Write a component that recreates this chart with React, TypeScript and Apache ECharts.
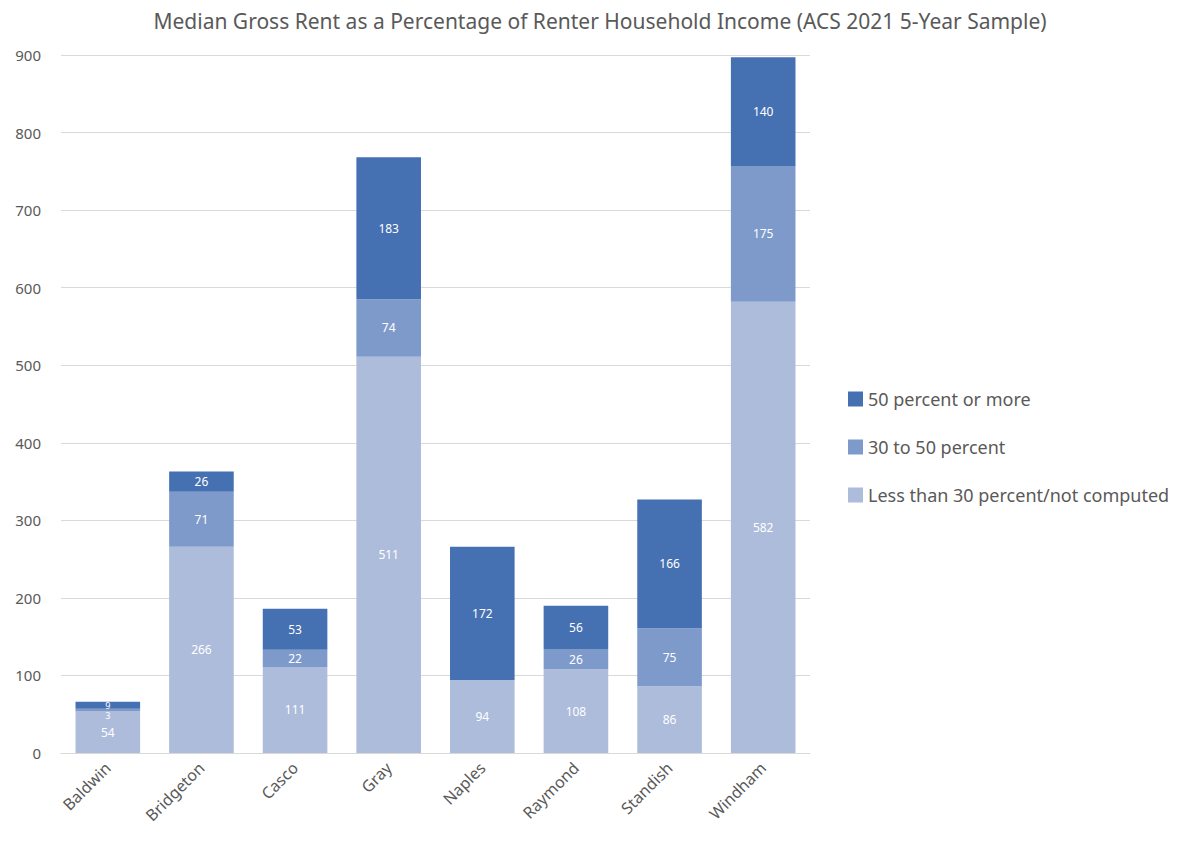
import React, { useEffect, useRef } from "react";
import * as echarts from "echarts";

const categories = ["Baldwin", "Bridgeton", "Casco", "Gray", "Naples", "Raymond", "Standish", "Windham"];
const lessThan30 = [54, 266, 111, 511, 94, 108, 86, 582];
const from30to50 = [3, 71, 22, 74, 0, 26, 75, 175];
const over50 = [9, 26, 53, 183, 172, 56, 166, 140];
const yTicks = [0, 100, 200, 300, 400, 500, 600, 700, 800, 900];

const FONT = "Noto Sans";
const TEXT = "#595959";

export default function App() {
  const ref = useRef<HTMLDivElement>(null);
  useEffect(() => {
    if (!ref.current) return;
    const chart = echarts.init(ref.current, undefined, { renderer: "svg" });
    const label = {
      show: true,
      position: "inside",
      color: "#ffffff",
      fontSize: 12,
      fontFamily: FONT,
      formatter: (p: any) => (p.value > 0 ? String(p.value) : ""),
    };
    // thin segments get a smaller, nudged label so texts stay readable
    const mk = (name: string, data: number[], color: string, smallOffset: number) => ({
      name,
      type: "bar",
      stack: "total",
      data: data.map((v) =>
        v > 0 && v < 12 ? { value: v, label: { fontSize: 9, offset: [0, smallOffset] } } : v
      ),
      barWidth: "69%",
      itemStyle: { color },
      label,
      emphasis: { disabled: true },
    });
    chart.setOption({
      animation: false,
      backgroundColor: "#ffffff",
      title: {
        text: "Median Gross Rent as a Percentage of Renter Household Income (ACS 2021 5-Year Sample)",
        left: 595,
        textAlign: "center",
        top: 5,
        textStyle: { color: TEXT, fontSize: 21, fontWeight: "normal", fontFamily: FONT },
      },
      legend: {
        orient: "vertical",
        left: 843,
        top: 385,
        itemWidth: 15,
        itemHeight: 15,
        itemGap: 30,
        icon: "rect",
        data: ["50 percent or more", "30 to 50 percent", "Less than 30 percent/not computed"],
        textStyle: { color: TEXT, fontSize: 18, fontFamily: FONT },
      },
      grid: { left: 61, right: 368, top: 55, bottom: 88, containLabel: false },
      xAxis: {
        type: "category",
        data: categories,
        axisTick: { show: false },
        axisLine: { lineStyle: { color: "#d9d9d9" } },
        axisLabel: { rotate: 45, color: TEXT, fontSize: 16, fontFamily: FONT, margin: 12, interval: 0 },
      },
      yAxis: {
        type: "value",
        min: yTicks[0],
        max: yTicks[yTicks.length - 1],
        interval: 100,
        axisLine: { show: false },
        axisTick: { show: false },
        splitLine: { lineStyle: { color: "#d9d9d9" } },
        axisLabel: { color: TEXT, fontSize: 15, fontFamily: FONT, margin: 20 },
      },
      series: [
        mk("Less than 30 percent/not computed", lessThan30, "#adbcdb", 0),
        mk("30 to 50 percent", from30to50, "#7d9acb", 6),
        mk("50 percent or more", over50, "#4570b2", 0),
      ],
    });
    return () => chart.dispose();
  }, []);
  return <div ref={ref} style={{ width: 1178, height: 841, margin: -8 }} />;
}
